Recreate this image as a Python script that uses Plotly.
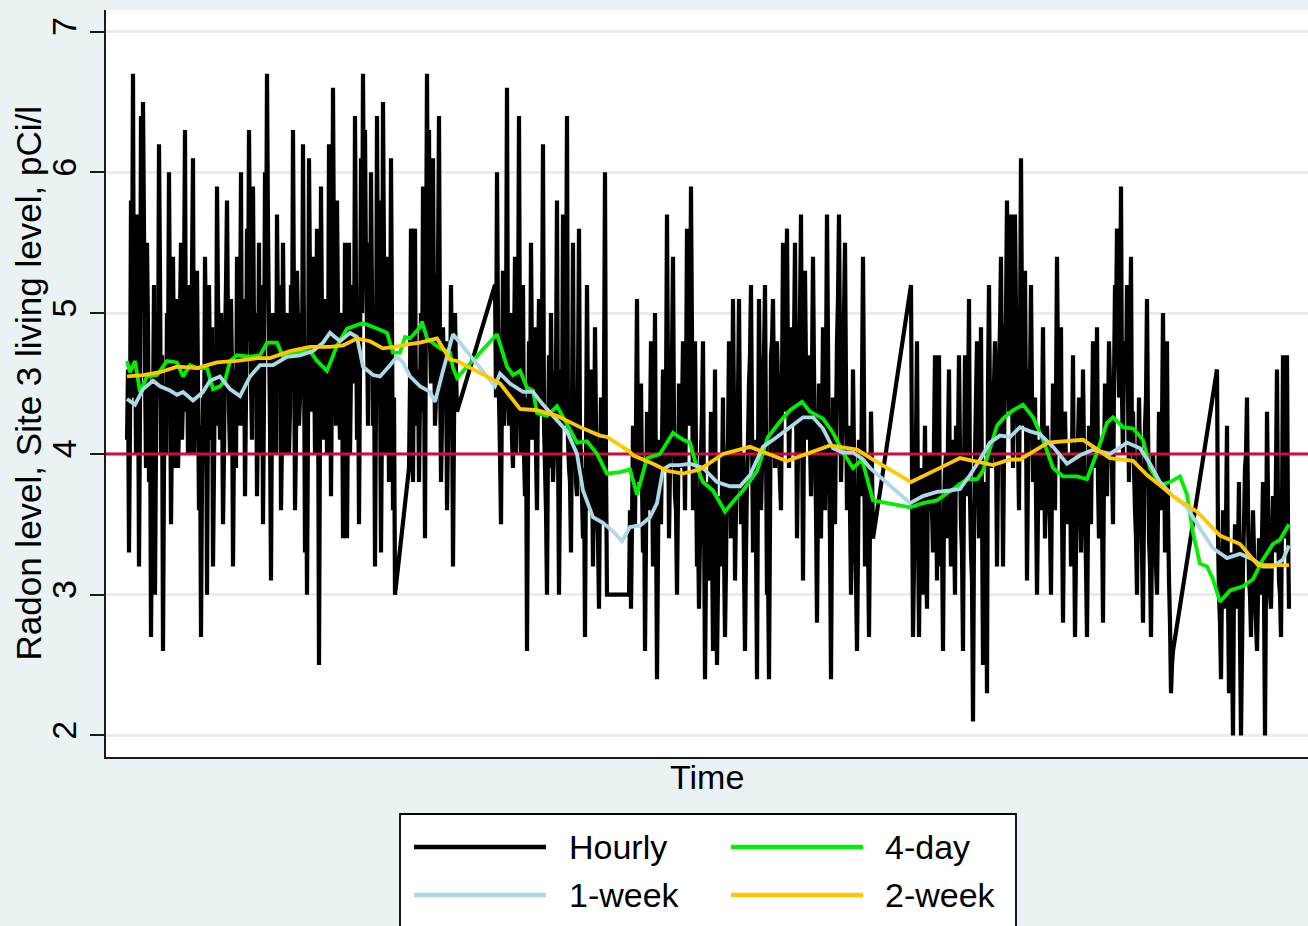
import plotly.graph_objects as go

# ---------------- data (time in hours since start; values in pCi/l) ----------------
# Hourly readings in contiguous runs (gaps between runs are missing hours).
# For each run: start hour, readings at even offsets, readings at odd offsets.
hourly_run_starts = [0, 282, 368, 502, 784, 1090]

run1_even = [4.1, 3.3, 5.8, 6.7, 5.1, 5.7, 3.2, 6.4, 6.5, 4.6,
             5.5, 3.8, 2.7, 4.3, 3.0, 5.0, 6.2, 4.0, 2.6, 4.5,
             5.0, 6.0, 3.5, 5.4, 3.9, 5.1, 4.2, 5.5, 4.4, 6.3,
             4.8, 5.2, 4.0, 6.1, 4.5, 5.3, 3.6, 2.7, 4.4, 5.4,
             3.0, 5.2, 4.1, 3.2, 4.7, 5.9, 4.6, 5.0, 3.5, 4.8,
             5.8, 4.3, 5.1, 3.2, 4.6, 5.4, 4.2, 6.0, 4.8, 3.7,
             5.6, 6.3, 4.5, 5.9, 4.4, 3.7, 5.5, 4.6, 3.5, 6.0,
             6.7, 4.9, 3.1, 5.0, 4.1, 5.7, 4.7, 3.6, 5.5, 4.4,
             5.0, 4.0, 5.2, 6.3, 3.6, 5.3, 4.2, 5.0, 6.2, 3.3,
             3.0, 6.1, 4.6, 5.4, 4.0, 5.6, 2.5, 5.9, 4.5, 5.1,
             4.0, 6.2, 3.7, 6.6, 4.8, 5.8, 4.4, 5.0, 3.4, 5.5,
             3.4, 5.5, 4.6, 5.2, 6.4, 4.1, 3.5, 6.1, 6.7, 6.3,
             4.9, 5.5, 6.0, 4.2, 3.2, 6.4, 5.8, 3.3, 6.5, 4.6,
             5.4, 3.8, 6.1, 3.6, 3.0]
run1_odd = [4.6, 4.2, 5.0, 4.4, 4.0, 4.8, 4.3, 5.1, 5.6, 3.9,
            4.9, 4.5, 3.6, 5.2, 4.1, 4.4, 5.3, 4.7, 3.9, 4.0,
            4.6, 4.9, 4.2, 4.6, 4.8, 3.9, 5.0, 4.1, 5.2, 4.3,
            4.0, 4.7, 5.3, 4.0, 4.9, 4.5, 4.2, 3.8, 4.0, 4.8,
            4.3, 4.6, 4.9, 3.9, 4.2, 5.1, 4.1, 4.5, 4.0, 5.2,
            4.9, 4.0, 4.6, 4.1, 3.9, 5.0, 4.7, 4.2, 5.1, 4.4,
            4.8, 5.4, 4.1, 4.9, 5.0, 4.3, 4.0, 5.2, 4.4, 5.1,
            5.6, 4.2, 4.4, 4.6, 4.0, 4.9, 5.2, 4.1, 4.7, 4.0,
            4.8, 4.3, 4.6, 5.0, 4.1, 4.9, 4.4, 4.5, 4.8, 4.5,
            4.2, 5.2, 4.3, 4.8, 4.5, 4.7, 4.2, 4.9, 4.1, 4.8,
            4.4, 5.0, 4.6, 5.3, 4.2, 5.0, 4.1, 4.7, 4.3, 4.6,
            4.4, 4.0, 4.8, 4.5, 5.2, 4.9, 4.6, 5.0, 5.5, 5.3,
            4.2, 4.7, 5.1, 4.8, 4.4, 5.0, 4.6, 4.3, 5.4, 4.0,
            4.8, 4.2, 4.9, 4.4]

run2_even = [3.9, 5.6, 3.8, 5.6, 4.5, 3.8, 5.0, 5.9, 3.4, 6.7,
             6.3, 4.5, 6.1, 4.2, 5.0, 6.4, 3.8, 4.9, 4.3, 3.6,
             4.6, 5.2, 3.2, 5.0, 4.3]
run2_odd = [4.5, 4.7, 4.9, 4.2, 4.6, 4.4, 4.3, 4.7, 5.2, 5.4,
            4.8, 5.3, 4.9, 4.4, 5.3, 4.7, 4.2, 4.6, 4.8, 4.1,
            4.3, 4.5, 4.2, 4.6]

run3_even = [5.2, 6.0, 4.4, 3.5, 5.3, 4.6, 6.6, 4.2, 5.0, 3.9,
             5.4, 4.5, 6.4, 4.0, 5.2, 3.7, 2.6, 4.8, 5.5, 4.1,
             4.9, 3.6, 5.1, 4.3, 6.2, 3.9, 3.0, 4.7, 5.0, 3.8,
             4.5, 5.8, 3.0, 4.6, 5.7, 4.2, 6.4, 3.9, 3.3, 5.5,
             4.4, 3.7, 5.6, 4.0, 3.4, 2.7, 5.2, 3.8, 4.6, 3.2,
             4.9, 3.6, 2.9, 4.4, 3.5, 6.0, 3.0]
run3_odd = [4.4, 4.9, 4.0, 4.5, 4.2, 4.8, 4.5, 4.6, 4.1, 4.7,
            4.0, 4.8, 4.6, 4.3, 4.0, 4.4, 3.9, 4.1, 4.6, 4.3,
            4.0, 4.5, 4.4, 4.8, 4.2, 3.6, 4.1, 3.9, 4.3, 4.0,
            4.6, 4.1, 3.8, 4.2, 4.5, 4.9, 4.1, 3.8, 4.3, 4.0,
            3.8, 4.5, 4.1, 3.7, 3.9, 4.0, 4.3, 3.6, 4.0, 3.9,
            4.2, 3.4, 3.8, 4.1, 4.5, 3.9]

run4_even = [3.0, 2.9, 4.2, 3.5, 5.1, 3.8, 4.5, 3.3, 2.6, 4.3,
             3.6, 4.8, 3.2, 5.0, 2.4, 4.1, 3.5, 4.6, 3.9, 5.7,
             3.4, 4.4, 5.4, 3.7, 3.0, 4.5, 3.9, 4.8, 3.6, 5.6,
             4.2, 5.9, 3.6, 4.8, 3.2, 2.9, 4.0, 4.8, 2.4, 3.8,
             3.1, 4.3, 2.6, 4.6, 2.5, 3.7, 3.2, 4.4, 2.7, 3.9,
             4.8, 3.4, 5.1, 3.1, 4.2, 5.1, 3.5, 4.0, 2.6, 3.8,
             4.5, 5.2, 3.3, 4.1, 2.4, 5.1, 3.6, 4.4, 5.2, 3.0,
             2.4, 4.7, 5.1, 3.9, 4.8, 4.0, 3.6, 5.5, 4.3, 5.6,
             3.9, 4.9, 4.2, 5.5, 3.4, 4.6, 5.7, 3.1, 5.3, 4.1,
             4.7, 3.7, 5.4, 4.0, 2.8, 4.5, 3.4, 4.9, 3.6, 5.7,
             3.9, 2.4, 4.4, 3.5, 4.8, 5.7, 3.8, 4.5, 5.5, 3.6,
             4.2, 3.0, 4.6, 3.4, 2.6, 4.1, 3.7, 5.4, 3.2, 4.0,
             2.7, 4.3, 3.4]
run4_odd = [3.6, 3.5, 3.9, 4.2, 4.0, 4.1, 3.8, 3.9, 3.4, 4.0,
            4.1, 3.9, 4.2, 3.6, 3.3, 3.8, 4.1, 4.3, 4.4, 4.5,
            3.9, 4.7, 4.2, 3.6, 3.7, 4.2, 4.3, 4.1, 4.4, 4.5,
            4.6, 4.8, 4.2, 4.0, 3.5, 3.4, 4.3, 3.6, 3.2, 3.5,
            3.7, 3.4, 3.6, 3.3, 3.1, 3.5, 3.8, 3.3, 3.2, 4.1,
            4.2, 4.0, 4.3, 3.6, 4.4, 4.2, 3.8, 3.2, 3.3, 4.1,
            4.7, 4.2, 3.9, 3.4, 3.9, 4.4, 3.9, 4.7, 4.1, 3.2,
            3.5, 4.8, 4.4, 4.3, 4.5, 3.8, 4.5, 4.9, 4.9, 4.6,
            4.3, 4.6, 4.8, 4.5, 4.0, 5.0, 4.4, 4.2, 4.6, 4.5,
            4.1, 4.6, 4.6, 3.6, 3.7, 3.9, 4.2, 4.3, 4.6, 4.8,
            3.4, 3.5, 3.9, 4.2, 5.1, 4.7, 4.1, 5.0, 4.5, 3.9,
            3.6, 3.8, 4.0, 3.1, 3.3, 3.9, 4.5, 4.4, 3.6, 3.4,
            3.5, 3.9]

run5_even = [5.2, 2.7, 3.8, 4.8, 2.7, 3.9, 3.0, 4.2, 2.9, 3.6,
             4.0, 3.3, 4.7, 3.1, 4.7, 3.5, 2.6, 3.9, 3.4, 4.6,
             3.2, 4.1, 3.0, 3.8, 4.7, 3.5, 2.6, 4.7, 3.7, 5.1,
             3.3, 2.1, 4.0, 4.8, 3.4, 4.9, 2.5, 3.8, 2.3, 5.2,
             3.9, 4.4, 4.8, 3.2, 4.6, 5.4, 3.2, 4.7, 5.8, 4.3,
             5.7, 3.9, 5.7, 4.5, 3.6, 6.1, 4.2, 5.3, 3.1, 4.6,
             5.2, 3.8, 4.4, 3.0, 4.1, 3.6, 4.9, 3.4, 4.2, 3.7,
             3.0, 4.5, 3.6, 5.4, 4.0, 4.9, 2.8, 4.3, 3.5, 4.0,
             3.2, 4.7, 2.7, 3.8, 4.4, 3.3, 4.6, 3.6, 2.7, 4.2,
             3.5, 4.8, 3.9, 4.9, 3.4, 4.1, 2.8, 4.5, 3.7, 4.8,
             4.2, 3.5, 5.2, 5.6, 4.4, 5.9, 4.0, 4.6, 5.2, 3.8,
             5.4, 4.3, 3.6, 3.0, 4.4, 3.7, 2.8, 4.2, 5.1, 3.4,
             2.7, 4.0, 3.5, 3.0, 4.3, 3.6, 5.0, 3.3, 4.8, 3.1,
             2.3, 2.6]
run5_odd = [3.9, 3.2, 4.1, 3.5, 3.4, 3.6, 3.7, 3.3, 4.0, 3.7,
            3.6, 4.1, 3.9, 4.0, 3.2, 3.4, 3.6, 4.0, 4.1, 3.7,
            3.6, 3.5, 4.2, 4.1, 4.0, 3.3, 3.8, 4.2, 4.3, 3.7,
            3.1, 3.4, 4.4, 4.0, 4.2, 3.6, 3.2, 3.4, 4.5, 4.3,
            4.0, 4.5, 4.1, 3.9, 4.9, 4.3, 4.0, 5.0, 4.8, 4.6,
            4.5, 4.6, 5.0, 4.1, 4.8, 4.9, 4.6, 4.3, 3.9, 4.5,
            4.4, 4.0, 3.7, 3.6, 4.0, 4.2, 4.0, 3.9, 4.0, 3.5,
            3.8, 4.1, 4.4, 4.6, 4.4, 3.6, 3.6, 3.9, 3.7, 3.9,
            4.0, 3.6, 3.3, 4.1, 3.8, 3.9, 4.0, 3.2, 3.5, 3.8,
            4.2, 4.4, 4.3, 3.8, 3.7, 3.6, 3.9, 4.3, 4.2, 4.5,
            3.9, 4.5, 4.9, 4.8, 4.7, 4.4, 4.8, 4.5, 4.4, 4.7,
            4.0, 3.9, 3.4, 3.8, 4.0, 3.3, 3.6, 4.4, 4.2, 3.2,
            3.4, 3.8, 3.2, 3.6, 3.9, 4.2, 4.1, 3.9, 3.6, 2.8,
            2.5]

run6_even = [4.6, 3.0, 2.4, 3.6, 2.9, 4.2, 2.3, 3.3, 2.0, 3.5,
             2.9, 3.8, 2.0, 3.2, 3.9, 4.4, 3.1, 2.7, 3.6, 3.0,
             2.6, 3.4, 3.0, 3.8, 2.0, 4.3, 3.2, 2.9, 3.7, 3.3,
             4.6, 3.1, 2.7, 4.7, 3.4, 4.7, 2.9]
run6_odd = [3.4, 2.8, 3.1, 3.2, 3.5, 3.0, 2.7, 2.6, 3.1, 3.3,
            3.3, 2.7, 2.6, 3.5, 4.0, 3.6, 3.0, 3.2, 3.3, 2.8,
            3.0, 3.1, 3.4, 3.0, 3.1, 3.7, 3.0, 3.3, 3.6, 3.9,
            3.6, 3.0, 3.6, 4.0, 4.0, 3.5]

hourly_runs = [(run1_even, run1_odd), (run2_even, run2_odd), (run3_even, run3_odd),
               (run4_even, run4_odd), (run5_even, run5_odd), (run6_even, run6_odd)]

# 4-day moving average
day4_t = [0, 3, 8, 13, 20, 30, 40, 50, 56, 63,
          70, 80, 86, 93, 98, 103, 110, 123, 133, 140,
          150, 156, 170, 183, 190, 200, 210, 220, 236, 250,
          260, 266, 273, 278, 283, 293, 295, 300, 313, 323,
          326, 330, 370, 380, 386, 393, 400, 406, 410, 420,
          430, 440, 450, 460, 470, 480, 493, 503, 510, 520,
          533, 546, 556, 563, 570, 576, 586, 598, 606, 616,
          630, 641, 653, 663, 675, 683, 696, 706, 716, 726,
          735, 746, 783, 796, 810, 830, 840, 850, 856, 870,
          876, 886, 896, 906, 916, 926, 936, 950, 960, 970,
          980, 986, 996, 1006, 1016, 1023, 1033, 1043, 1053, 1060,
          1066, 1073, 1080, 1086, 1093, 1103, 1116, 1126, 1136, 1146,
          1153, 1162]
day4_v = [4.66, 4.58, 4.66, 4.44, 4.55, 4.56, 4.66, 4.65, 4.55, 4.63,
          4.61, 4.61, 4.46, 4.48, 4.52, 4.66, 4.70, 4.69, 4.70, 4.79,
          4.79, 4.69, 4.72, 4.73, 4.66, 4.59, 4.77, 4.89, 4.93, 4.89,
          4.86, 4.72, 4.72, 4.83, 4.82, 4.90, 4.94, 4.82, 4.75, 4.72,
          4.61, 4.54, 4.85, 4.62, 4.56, 4.59, 4.47, 4.45, 4.29, 4.27,
          4.34, 4.21, 4.08, 4.09, 4.00, 3.86, 3.87, 3.89, 3.71, 3.97,
          4.00, 4.15, 4.10, 4.08, 3.90, 3.80, 3.74, 3.59, 3.66, 3.74,
          3.88, 4.12, 4.23, 4.31, 4.37, 4.30, 4.25, 4.15, 4.01, 3.90,
          3.96, 3.67, 3.62, 3.65, 3.67, 3.77, 3.82, 3.82, 3.88, 4.20,
          4.25, 4.31, 4.35, 4.26, 4.10, 3.90, 3.84, 3.84, 3.82, 4.01,
          4.22, 4.26, 4.19, 4.18, 4.10, 3.90, 3.78, 3.80, 3.84, 3.71,
          3.44, 3.22, 3.20, 3.11, 2.95, 3.03, 3.06, 3.11, 3.25, 3.36,
          3.39, 3.50]

# 1-week moving average
week1_t = [0, 8, 16, 26, 33, 43, 50, 56, 66, 76,
           83, 93, 103, 113, 123, 133, 146, 160, 173, 186,
           196, 203, 213, 223, 230, 236, 246, 253, 263, 270,
           276, 283, 293, 303, 308, 316, 326, 368, 373, 383,
           396, 406, 416, 426, 440, 450, 456, 466, 476, 486,
           495, 503, 513, 523, 530, 536, 543, 553, 563, 576,
           590, 603, 613, 623, 636, 650, 663, 676, 686, 696,
           706, 716, 726, 736, 743, 783, 796, 810, 823, 833,
           843, 853, 863, 873, 883, 893, 903, 913, 926, 940,
           953, 966, 983, 1000, 1013, 1023, 1033, 1046, 1060, 1073,
           1086, 1100, 1113, 1126, 1136, 1146, 1156, 1162]
week1_v = [4.39, 4.35, 4.46, 4.52, 4.48, 4.45, 4.42, 4.44, 4.38, 4.44,
           4.52, 4.55, 4.46, 4.41, 4.55, 4.63, 4.63, 4.69, 4.70, 4.73,
           4.79, 4.86, 4.80, 4.86, 4.83, 4.62, 4.56, 4.55, 4.63, 4.69,
           4.65, 4.55, 4.48, 4.44, 4.37, 4.59, 4.85, 4.48, 4.57, 4.50,
           4.44, 4.44, 4.35, 4.27, 4.16, 4.00, 3.74, 3.55, 3.51, 3.45,
           3.38, 3.48, 3.49, 3.55, 3.65, 3.89, 3.92, 3.92, 3.93, 3.90,
           3.80, 3.77, 3.77, 3.85, 4.05, 4.12, 4.19, 4.26, 4.26, 4.18,
           4.04, 4.01, 4.01, 3.96, 3.90, 3.65, 3.70, 3.73, 3.74, 3.75,
           3.85, 3.96, 4.08, 4.13, 4.12, 4.19, 4.16, 4.14, 4.05, 3.93,
           3.99, 4.03, 4.00, 4.08, 4.04, 3.93, 3.80, 3.70, 3.62, 3.47,
           3.33, 3.26, 3.29, 3.25, 3.20, 3.20, 3.25, 3.35]

# 2-week moving average
week2_t = [0, 16, 33, 50, 70, 90, 110, 130, 143, 163,
           183, 203, 216, 230, 243, 256, 268, 282, 293, 310,
           323, 330, 368, 373, 393, 410, 430, 453, 473, 480,
           502, 506, 526, 540, 556, 573, 596, 623, 660, 703,
           730, 746, 784, 810, 833, 866, 883, 893, 921, 956,
           983, 1006, 1020, 1036, 1046, 1070, 1093, 1113, 1131, 1162]
week2_v = [4.55, 4.56, 4.58, 4.62, 4.61, 4.65, 4.66, 4.68, 4.68, 4.73,
           4.76, 4.76, 4.77, 4.82, 4.80, 4.75, 4.76, 4.78, 4.79, 4.82,
           4.67, 4.66, 4.52, 4.50, 4.32, 4.31, 4.27, 4.19, 4.13, 4.12,
           4.02, 3.99, 3.93, 3.88, 3.86, 3.89, 4.00, 4.05, 3.95, 4.06,
           4.03, 3.96, 3.80, 3.89, 3.97, 3.92, 3.96, 3.96, 4.08, 4.10,
           3.97, 3.95, 3.85, 3.76, 3.70, 3.59, 3.42, 3.36, 3.21, 3.21]

series_names = ["Hourly", "4-day", "1-week", "2-week"]
series_colors = ["#000000", "#00ee00", "#add8e6", "#ffc800"]
reference_level = 4
y_ticks = [2, 3, 4, 5, 6, 7]
y_title = "Radon level, Site 3 living level, pCi/l"
x_title = "Time"

# ---------------- layout geometry (pixels) ----------------
W, H = 1308, 926
ML, MR, MT, MB = 106, 0, 10, 169
PW, PH = W - ML - MR, H - MT - MB
X_RANGE = [-21, 1181]
Y_RANGE = [1.847, 7.153]
FONT = "Liberation Sans, Arial, Helvetica, sans-serif"


def px_x(px):
    return (px - ML) / PW


def px_y(py):
    return (H - MB - py) / PH


# ---------------- assemble hourly series ----------------
hx, hy = [], []
for start, (even, odd) in zip(hourly_run_starts, hourly_runs):
    for i, v in enumerate(even):
        hx.append(start + 2 * i)
        hy.append(v)
        if i < len(odd):
            hx.append(start + 2 * i + 1)
            hy.append(odd[i])

fig = go.Figure()
fig.add_trace(go.Scatter(x=hx, y=hy, mode="lines", name=series_names[0],
                         line=dict(color=series_colors[0], width=4.2, simplify=False),
                         showlegend=False))
fig.add_trace(go.Scatter(x=X_RANGE, y=[reference_level] * 2, mode="lines",
                         line=dict(color="#c8103c", width=3), showlegend=False,
                         hoverinfo="skip"))
for name, col, t, v in [(series_names[1], series_colors[1], day4_t, day4_v),
                        (series_names[2], series_colors[2], week1_t, week1_v),
                        (series_names[3], series_colors[3], week2_t, week2_v)]:
    fig.add_trace(go.Scatter(x=t, y=v, mode="lines", name=name,
                             line=dict(color=col, width=3.8, simplify=False),
                             showlegend=False))

# ---------------- manual legend (Stata-like) ----------------
shapes = []
annotations = []
shapes.append(dict(type="rect", xref="paper", yref="paper",
                   x0=px_x(400), x1=px_x(1016), y0=px_y(960), y1=px_y(814),
                   line=dict(color="#000000", width=1.8), fillcolor="#ffffff",
                   layer="above"))
legend_pos = [(414, 546, 567, 847), (731, 863, 883, 847),
              (414, 546, 567, 895), (731, 863, 883, 895)]
for k, (lx0, lx1, tx, ry) in enumerate(legend_pos):
    shapes.append(dict(type="line", xref="paper", yref="paper",
                       x0=px_x(lx0), x1=px_x(lx1), y0=px_y(ry), y1=px_y(ry),
                       line=dict(color=series_colors[k], width=4.5), layer="above"))
    annotations.append(dict(text=series_names[k], xref="paper", yref="paper",
                            x=px_x(tx), y=px_y(ry), xanchor="left", yanchor="middle",
                            showarrow=False, font=dict(family=FONT, size=34, color="#000")))

annotations.append(dict(text=y_title, xref="paper", yref="paper", x=px_x(28), y=0.5,
                        xanchor="center", yanchor="middle", textangle=-90,
                        showarrow=False, font=dict(family=FONT, size=35, color="#000")))
annotations.append(dict(text=x_title, xref="paper", yref="paper", x=0.5, y=px_y(777),
                        xanchor="center", yanchor="middle",
                        showarrow=False, font=dict(family=FONT, size=34, color="#000")))

fig.update_layout(
    width=W, height=H,
    margin=dict(l=ML, r=MR, t=MT, b=MB, pad=0),
    paper_bgcolor="#eaf2f3", plot_bgcolor="#ffffff",
    showlegend=False,
    shapes=shapes, annotations=annotations,
    font=dict(family=FONT, color="#000"),
    xaxis=dict(range=X_RANGE, showgrid=False, zeroline=False, showticklabels=False,
               ticks="", showline=True, linecolor="#1a1a1a", linewidth=2.2),
    yaxis=dict(range=Y_RANGE, tickvals=y_ticks, ticks="outside", ticklen=14,
               tickwidth=1.8, tickcolor="#1a1a1a", showline=True, linecolor="#1a1a1a",
               linewidth=2.2, showgrid=True, gridcolor="#e6eef0", gridwidth=2.5,
               zeroline=False, tickangle=-90, tickfont=dict(family=FONT, size=34)),
)

fig.write_html("out.html")
